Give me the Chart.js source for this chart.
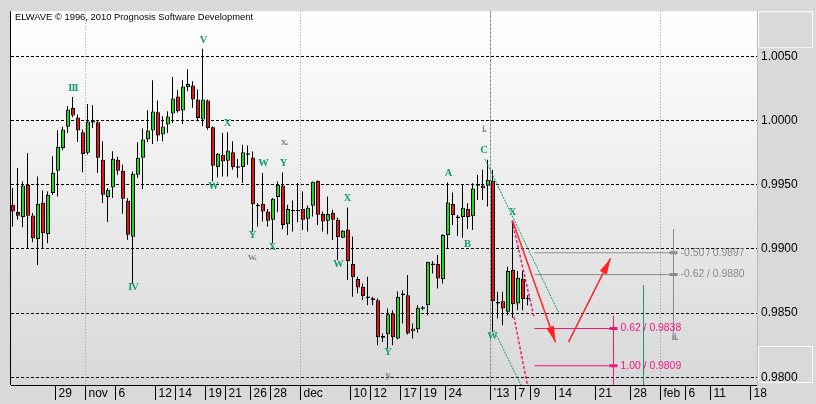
<!DOCTYPE html>
<html>
<head>
<meta charset="utf-8">
<script src="https://cdn.jsdelivr.net/npm/chart.js@4.4.1/dist/chart.umd.min.js"></script>
<style>
  html, body { margin: 0; padding: 0; background: #d9d9d9; }
</style>
</head>
<body>
<canvas id="myChart" width="816" height="404"></canvas>
<script>
// half-day candles, slot 1 = first bar on the left
var candleOpen = [0.99344, 0.99287, 0.99248, 0.99500, 0.99261, 0.99078, 0.99360, 0.99117, 0.99435, 0.99610,
  0.99787, 0.99951, 1.00097, 1.00024, 0.99909, 0.99750, 1.00003, 0.99987, 0.99695, 0.99404,
  0.99479, 0.99695, 0.99610, 0.99375, 0.99094, 0.99578, 0.99711, 0.99852, 0.99922, 1.00065,
  0.99891, 0.99969, 1.00055, 1.00188, 1.00078, 1.00261, 1.00273, 1.00164, 1.00008, 1.00156,
  0.99948, 0.99638, 0.99734, 0.99687, 0.99753, 0.99644, 0.99638, 0.99746, 0.99713, 0.99344,
  0.99352, 0.99292, 0.99227, 0.99404, 0.99495, 0.99193, 0.99306, 0.99294, 0.99312, 0.99235,
  0.99336, 0.99531, 0.99273, 0.99219, 0.99281, 0.99227, 0.99088, 0.99151, 0.98883, 0.98766,
  0.98706, 0.98629, 0.98615, 0.98601, 0.98309, 0.98335, 0.98497, 0.98302, 0.98640, 0.98640,
  0.98359, 0.98374, 0.98534, 0.98562, 0.98886, 0.98882, 0.98765, 0.99109, 0.99351, 0.99252,
  0.99249, 0.99312, 0.99255, 0.99505, 0.99494, 0.99492, 0.99531, 0.98586, 0.98593, 0.98510,
  0.98835, 0.98575, 0.98768, 0.98620];
var candleHigh = [0.99474, 0.99630, 0.99526, 0.99745, 0.99279, 0.99565, 0.99456, 0.99448, 0.99722, 0.99925,
  0.99951, 1.00112, 1.00183, 1.00047, 0.99930, 1.00130, 1.00120, 1.00003, 0.99839, 0.99474,
  0.99761, 0.99719, 0.99656, 0.99396, 0.99604, 0.99831, 0.99938, 1.00081, 1.00315, 1.00156,
  1.00034, 1.00073, 1.00339, 1.00240, 1.00315, 1.00399, 1.00307, 1.00242, 1.00560, 1.00164,
  0.99955, 0.99747, 0.99904, 0.99909, 0.99838, 0.99700, 0.99812, 0.99805, 0.99760, 0.99357,
  0.99591, 0.99312, 0.99396, 0.99526, 0.99596, 0.99344, 0.99378, 0.99513, 0.99448, 0.99338,
  0.99526, 0.99534, 0.99292, 0.99409, 0.99305, 0.99245, 0.99148, 0.99323, 0.99096, 0.98784,
  0.98732, 0.98784, 0.98627, 0.98614, 0.98341, 0.98536, 0.98523, 0.98671, 0.98679, 0.98796,
  0.98419, 0.98562, 0.98556, 0.98900, 0.98906, 0.98953, 0.99114, 0.99518, 0.99440, 0.99265,
  0.99499, 0.99356, 0.99512, 0.99578, 0.99617, 0.99695, 0.99617, 0.98666, 0.98666, 0.98861,
  0.99213, 0.98828, 0.98828, 0.98640];
var candleLow = [0.99175, 0.99227, 0.99169, 0.99000, 0.99052, 0.98875, 0.99000, 0.99045, 0.99422, 0.99409,
  0.99768, 0.99904, 1.00026, 0.99834, 0.99597, 0.99735, 0.99943, 0.99591, 0.99357, 0.99209,
  0.99396, 0.99578, 0.99274, 0.99071, 0.98732, 0.99552, 0.99466, 0.99834, 0.99818, 0.99839,
  0.99839, 0.99904, 0.99982, 1.00060, 0.99974, 1.00229, 1.00099, 0.99995, 0.99955, 0.99929,
  0.99526, 0.99557, 0.99565, 0.99565, 0.99617, 0.99552, 0.99513, 0.99656, 0.99135, 0.99174,
  0.99213, 0.99174, 0.99044, 0.99286, 0.99154, 0.99109, 0.99135, 0.99208, 0.99148, 0.99135,
  0.99253, 0.99187, 0.99135, 0.99115, 0.99070, 0.98914, 0.99083, 0.98758, 0.98628, 0.98654,
  0.98602, 0.98562, 0.98562, 0.98249, 0.98275, 0.98223, 0.98249, 0.98296, 0.98419, 0.98333,
  0.98302, 0.98348, 0.98523, 0.98484, 0.98809, 0.98692, 0.98731, 0.99005, 0.99187, 0.99101,
  0.99088, 0.99156, 0.99148, 0.99382, 0.99382, 0.99330, 0.98354, 0.98458, 0.98406, 0.98484,
  0.98463, 0.98523, 0.98523, 0.98562];
var candleClose = [0.99292, 0.99258, 0.99495, 0.99258, 0.99084, 0.99352, 0.99123, 0.99422, 0.99594, 0.99797,
  0.99930, 1.00086, 1.00039, 0.99922, 0.99740, 0.99992, 0.99985, 0.99711, 0.99422, 0.99461,
  0.99703, 0.99610, 0.99391, 0.99110, 0.99586, 0.99711, 0.99852, 0.99922, 1.00071, 0.99883,
  0.99953, 1.00031, 1.00172, 1.00073, 1.00266, 1.00284, 1.00164, 1.00020, 1.00164, 0.99942,
  0.99648, 0.99742, 0.99682, 0.99766, 0.99638, 0.99632, 0.99753, 0.99734, 0.99349, 0.99332,
  0.99292, 0.99219, 0.99391, 0.99500, 0.99187, 0.99312, 0.99294, 0.99306, 0.99227, 0.99320,
  0.99523, 0.99266, 0.99213, 0.99273, 0.99227, 0.99091, 0.99141, 0.98906, 0.98779, 0.98700,
  0.98633, 0.98617, 0.98603, 0.98312, 0.98321, 0.98492, 0.98312, 0.98627, 0.98653, 0.98341,
  0.98380, 0.98541, 0.98546, 0.98898, 0.98874, 0.98770, 0.99109, 0.99361, 0.99265, 0.99240,
  0.99320, 0.99249, 0.99471, 0.99493, 0.99473, 0.99539, 0.98593, 0.98574, 0.98536, 0.98828,
  0.98570, 0.98775, 0.98609, 0.98608];

var tickSlots = [9.6, 15.6, 21.6, 29.6, 33.6, 39.6, 43.6, 48.6, 52.6, 58.6, 68.6, 72.6, 78.6, 82.6, 87.6,
  96.6, 101.6, 104.6, 109.6, 117.6, 124.6, 130.6, 135.6, 140.6, 148.6];
var tickLabels = ['29', 'nov', '6', '12', '14', '19', '21', '26', '28', 'dec', '10', '12', '17', '19', '24',
  '\u201913', '7', '9', '14', '21', '28', 'feb', '6', '11', '18'];
var monthMarks = ['nov', 'dec', 'feb'];
var yearMark = '\u201913';
var priceTicks = [0.9800, 0.9850, 0.9900, 0.9950, 1.0000, 1.0050];

var waveText = ['III', 'IV', 'V', 'X', 'W', 'W', 'Y', 'x.', 'Y', 'X', 'w.', 'X', 'W', 'Y', 'y.', 'A', 'B', 'C', 'i.', 'X', 'W', 'ii.'];
var waveSlot = [13.1, 25.1, 39.1, 43.9, 41.1, 51.1, 55.1, 55.3, 48.9, 52.9, 48.9, 67.9, 66.1, 76.0, 76.1, 88.1, 91.9, 95.2, 95.3, 100.9, 96.9, 133.4];
var wavePrice = [1.00252, 0.98703, 1.00624, 0.99977, 0.99491, 0.99666, 0.99669, 0.99829, 0.99105, 0.99009, 0.98936, 0.99398, 0.98877, 0.98194, 0.98018, 0.99589, 0.99040, 0.99770, 0.99933, 0.99286, 0.98321, 0.98311];

var fibRatio = [-0.50, -0.62, 0.62, 1.00];
var fibPrice = [0.9897, 0.9880, 0.9838, 0.9809];
var fibEnd = [133.2, 133.2, 121.2, 121.2];
var fibStart = 105.4;

var channelUpper = [[95.5, 0.99700], [110.2, 0.98507]];
var channelLower = [[97.3, 0.98367], [103.2, 0.97900]];
var pinkUpper = [[100.9, 0.99221], [105.3, 0.98470]];
var pinkLower = [[101.3, 0.98470], [104.1, 0.97917]];
var arrowDown = [[101.0, 0.99221], [109.6, 0.98274]];
var arrowUp = [[112.2, 0.98274], [120.6, 0.98926]];
var grayStem = [[133.2, 0.99151], [133.2, 0.98344]];
var pinkStem = [[121.2, 0.98476], [121.2, 0.97900]];
var greenStem = [[127.2, 0.98716], [127.2, 0.97900]];

var teal = '#139e6e', pink = '#f2167c', red = '#ff2424', gray = '#8a8a8a';

var wickData = candleOpen.map(function(o, i) { return {x: i + 1, y: [candleLow[i], candleHigh[i]]}; });
var bodyData = candleOpen.map(function(o, i) { return {x: i + 1.1, y: [o, candleClose[i]]}; });
var bodyColors = candleOpen.map(function(o, i) { return candleClose[i] >= o ? '#11e011' : '#ee1010'; });

function pts(list) {
  return list.map(function(p) { return {x: p[0], y: p[1]}; });
}

function line(list, color, width, dash, extra) {
  var ds = {type: 'line', data: pts(list), borderColor: color, borderWidth: width, borderDash: dash,
    pointRadius: 0, fill: false, tension: 0, order: 0};
  for (var k in extra) ds[k] = extra[k];
  return ds;
}

var datasets = [
  {type: 'bar', data: bodyData, backgroundColor: bodyColors, borderColor: '#000', borderWidth: 1,
    borderSkipped: false, barThickness: 4, grouped: false, inflateAmount: 0, order: 1},
  {type: 'bar', data: wickData, backgroundColor: '#000', borderWidth: 0,
    barThickness: 1, grouped: false, inflateAmount: 0, order: 2},
  line(channelUpper, teal, 1, [2, 1]),
  line(channelLower, teal, 1, [2, 1]),
  line(pinkUpper, pink, 1.5, [3, 2]),
  line(pinkLower, pink, 1.5, [3, 2]),
  line(greenStem, teal, 1, []),
  line(grayStem, gray, 1, []),
  line(pinkStem, pink, 1, []),
  line(arrowDown, red, 1.5, [], {arrow: true}),
  line(arrowUp, red, 1.5, [], {arrow: true})
];

fibPrice.forEach(function(p, i) {
  var c = fibRatio[i] < 0 ? gray : pink;
  datasets.push(line([[fibStart, p], [fibEnd[i], p]], c, 1, [],
    {pointRadius: [0, 4], pointStyle: 'line', pointBorderWidth: 3, pointBorderColor: c}));
});

var decor = {
  id: 'decor',
  beforeDraw: function(chart) {
    var ctx = chart.ctx, a = chart.chartArea;
    ctx.save();
    ctx.fillStyle = '#d9d9d9';
    ctx.fillRect(0, 0, chart.width, chart.height);
    var g = ctx.createLinearGradient(0, a.top, 0, a.bottom);
    g.addColorStop(0, '#ffffff');
    g.addColorStop(1, '#d8d8d8');
    ctx.fillStyle = g;
    ctx.fillRect(a.left, a.top, a.right - a.left, a.bottom - a.top);
    ctx.strokeStyle = '#fbfbfb';
    ctx.lineWidth = 1;
    ctx.strokeRect(a.right + 1.5, a.top + 0.5, 54, 36);
    ctx.strokeRect(a.right + 1.5, a.bottom - 38.5, 54, 36);
    ctx.restore();
  },
  afterDatasetsDraw: function(chart) {
    var ctx = chart.ctx, a = chart.chartArea, xs = chart.scales.x, ys = chart.scales.y;
    ctx.save();
    chart.data.datasets.forEach(function(ds, di) {
      if (!ds.arrow) return;
      var el = chart.getDatasetMeta(di).data;
      var p0 = el[0], p1 = el[el.length - 1];
      var ang = Math.atan2(p1.y - p0.y, p1.x - p0.x);
      var c = Math.cos(ang), s = Math.sin(ang);
      ctx.fillStyle = ds.borderColor;
      ctx.beginPath();
      ctx.moveTo(p1.x, p1.y);
      ctx.lineTo(p1.x - 16 * c + 4 * s, p1.y - 16 * s - 4 * c);
      ctx.lineTo(p1.x - 16 * c - 4 * s, p1.y - 16 * s + 4 * c);
      ctx.closePath();
      ctx.fill();
    });

    ctx.font = '10.4px "Liberation Sans"';
    ctx.textAlign = 'left';
    ctx.textBaseline = 'middle';
    fibPrice.forEach(function(p, i) {
      ctx.fillStyle = fibRatio[i] < 0 ? gray : pink;
      ctx.fillText(fibRatio[i].toFixed(2) + ' / ' + p.toFixed(4), xs.getPixelForValue(fibEnd[i]) + 7, ys.getPixelForValue(p));
    });

    ctx.textAlign = 'center';
    ctx.letterSpacing = '-1px';
    waveText.forEach(function(t, i) {
      var minor = /\./.test(t);
      ctx.font = minor ? 'bold 11px "Liberation Serif"' : 'bold 10.5px "Liberation Serif"';
      ctx.fillStyle = minor ? '#8c8c8c' : teal;
      ctx.fillText(t, xs.getPixelForValue(waveSlot[i]), ys.getPixelForValue(wavePrice[i]));
    });
    ctx.letterSpacing = '0px';

    ctx.fillStyle = '#000';
    ctx.fillRect(a.left - 1, a.top, 1, a.bottom - a.top);
    ctx.font = '9.4px "Liberation Sans"';
    ctx.textAlign = 'left';
    ctx.fillText('ELWAVE \u00a9 1996, 2010 Prognosis Software Development', a.left + 4, a.top + 6);
    ctx.restore();
  }
};

var context = document.getElementById('myChart').getContext('2d');
var chart = new Chart(context, {
  type: 'bar',
  data: {datasets: datasets},
  plugins: [decor],
  options: {
    responsive: false,
    animation: false,
    devicePixelRatio: 1,
    events: [],
    layout: {padding: {left: 11, top: 10, right: 0, bottom: 0}},
    plugins: {legend: {display: false}, tooltip: {enabled: false}},
    scales: {
      x: {
        type: 'linear', min: 0.7, max: 149.9, offset: false,
        afterBuildTicks: function(s) { s.ticks = tickSlots.map(function(v) { return {value: v}; }); },
        afterFit: function(s) { s.height = 19; },
        ticks: {
          autoSkip: false, maxRotation: 0, minRotation: 0, align: 'start', labelOffset: 3, padding: -14,
          color: '#000', font: {family: 'Liberation Sans', size: 12},
          callback: function(v, i) { return tickLabels[i]; }
        },
        grid: {
          offset: false, drawOnChartArea: true, tickLength: 15, tickColor: '#000', lineWidth: 1,
          color: function(c) {
            var l = tickLabels[c.index];
            if (monthMarks.indexOf(l) >= 0) return '#9c9c9c';
            if (l == yearMark) return '#8a8a8a';
            return 'rgba(0,0,0,0)';
          }
        },
        border: {
          color: '#000', width: 1,
          dash: function(c) {
            var l = tickLabels[c.index];
            if (monthMarks.indexOf(l) >= 0) return [1, 2];
            if (l == yearMark) return [3, 1];
            return [];
          }
        }
      },
      y: {
        type: 'linear', position: 'right', min: 0.9794, max: 1.00852,
        afterBuildTicks: function(s) { s.ticks = priceTicks.map(function(v) { return {value: v}; }); },
        afterFit: function(s) { s.width = 59; },
        ticks: {
          color: '#000', padding: 4, font: {family: 'Liberation Sans', size: 12},
          callback: function(v) { return v.toFixed(4); }
        },
        grid: {color: '#000', lineWidth: 1, drawTicks: false},
        border: {display: true, color: '#bcbcbc', width: 1, dash: [3, 2]}
      }
    }
  }
});
</script>
</body>
</html>
